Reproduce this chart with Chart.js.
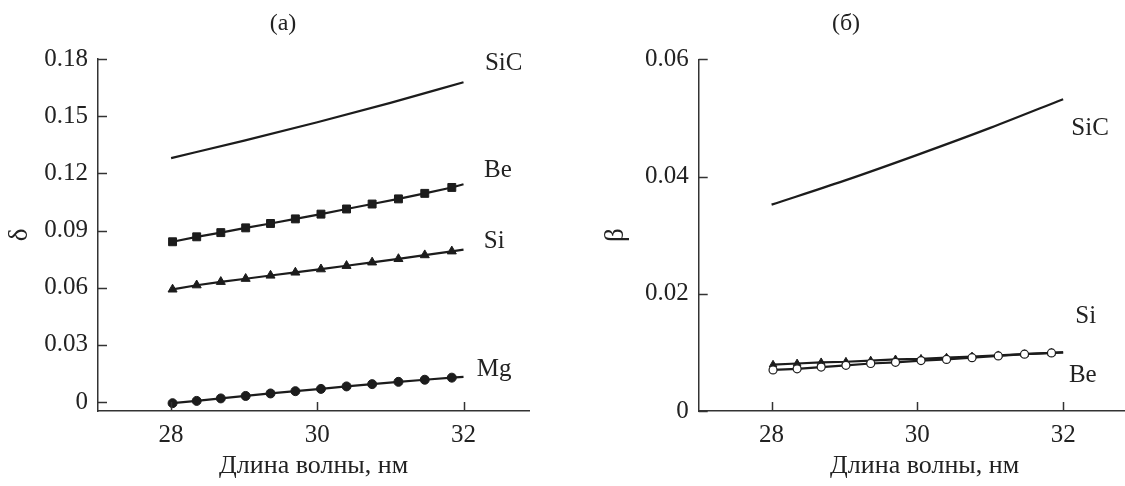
<!DOCTYPE html>
<html><head><meta charset="utf-8">
<script src="https://cdn.jsdelivr.net/npm/chart.js@4.4.1/dist/chart.umd.min.js"></script>
<style>
html,body{margin:0;padding:0;background:#fff;overflow:hidden;width:1125px;height:486px;}
#wrap{position:relative;width:1125px;height:486px;overflow:hidden;background:#fff;}
canvas{position:absolute;top:0;}
#c1{left:0;}
#c2{left:596px;}
.pl{position:absolute;font-family:"Liberation Serif",serif;font-size:24px;color:#222;transform:translate(-50%,-50%);white-space:nowrap;}
</style></head><body>
<div id="wrap">
<canvas id="c1" width="562" height="486"></canvas>
<canvas id="c2" width="560" height="486"></canvas>
<div class="pl" style="left:283px;top:22px">(а)</div>
<div class="pl" style="left:846px;top:22px">(б)</div>
</div>
<script>
// ---------- data ----------
const wavelengths = [28.02, 28.35, 28.68, 29.02, 29.36, 29.70, 30.05, 30.40, 30.75, 31.11, 31.47, 31.84, 32.0];
const sicWavelengths = [28, 29, 30, 31, 32];

// panel (а): delta
const deltaSiC = [0.1280, 0.1372, 0.1468, 0.1570, 0.1678];
const deltaBe  = [0.0841, 0.0867, 0.0889, 0.0914, 0.0937, 0.0961, 0.0986, 0.1013, 0.1039, 0.1066, 0.1095, 0.1126, 0.1143];
const deltaSi  = [0.0591, 0.0613, 0.0631, 0.0647, 0.0664, 0.0680, 0.0697, 0.0715, 0.0733, 0.0751, 0.0771, 0.0791, 0.0800];
const deltaMg  = [-0.0006, 0.0006, 0.0019, 0.0032, 0.0045, 0.0057, 0.0069, 0.0082, 0.0094, 0.0106, 0.0117, 0.0128, 0.0132];

// panel (б): beta
const betaSiC = [0.0352, 0.0393, 0.0437, 0.0483, 0.0532];
const betaSi  = [0.0079, 0.0081, 0.0083, 0.0084, 0.0086, 0.0088, 0.0089, 0.0091, 0.0093, 0.0095, 0.0097, 0.0099, 0.0100];
const betaBe  = [0.0070, 0.0072, 0.0075, 0.0078, 0.0081, 0.0083, 0.0086, 0.0088, 0.0091, 0.0094, 0.0097, 0.0099, 0.0100];

// ticks
const xTicks = [28, 30, 32];
const xTickLabels = ['28', '30', '32'];
const deltaTicks = [0, 0.03, 0.06, 0.09, 0.12, 0.15, 0.18];
const deltaTickLabels = ['0', '0.03', '0.06', '0.09', '0.12', '0.15', '0.18'];
const betaTicks = [0, 0.02, 0.04, 0.06];
const betaTickLabels = ['0', '0.02', '0.04', '0.06'];

const xTitle = 'Длина волны, нм';

// curve name labels (data coordinates)
const labelsA = [
  {text: 'SiC', x: 32.55, y: 0.1778},
  {text: 'Be',  x: 32.47, y: 0.1217},
  {text: 'Si',  x: 32.42, y: 0.0844},
  {text: 'Mg',  x: 32.42, y: 0.0173}
];
const labelsB = [
  {text: 'SiC', x: 32.37, y: 0.0482},
  {text: 'Si',  x: 32.31, y: 0.0162},
  {text: 'Be',  x: 32.27, y: 0.0061}
];

// ---------- styling / helpers ----------
const FONT = 'Liberation Serif';
const INK = '#1c1c1c';
const TXT = '#222';

function pts(xs, ys) { return xs.map((x, i) => ({x: x, y: ys[i]})); }
const lastIdx = wavelengths.length - 1;
function markerRadius(r) { return c => (c.dataIndex === lastIdx ? 0 : r); }

const innerTicks = {
  id: 'innerTicks',
  afterDraw(chart) {
    const ctx = chart.ctx, xs = chart.scales.x, ys = chart.scales.y;
    ctx.save();
    ctx.strokeStyle = '#333';
    ctx.lineWidth = 1.5;
    xs.ticks.forEach(t => {
      const px = Math.round(xs.getPixelForValue(t.value)) + 0.5;
      ctx.beginPath(); ctx.moveTo(px, xs.top); ctx.lineTo(px, xs.top - 9); ctx.stroke();
    });
    ys.ticks.forEach(t => {
      const py = Math.round(ys.getPixelForValue(t.value)) + 0.5;
      ctx.beginPath(); ctx.moveTo(ys.right, py); ctx.lineTo(ys.right + 9, py); ctx.stroke();
    });
    ctx.restore();
  }
};

const curveLabels = {
  id: 'curveLabels',
  afterDraw(chart, args, opts) {
    const ctx = chart.ctx, xs = chart.scales.x, ys = chart.scales.y;
    ctx.save();
    ctx.font = '25px "' + FONT + '"';
    ctx.fillStyle = TXT;
    ctx.textAlign = 'center';
    ctx.textBaseline = 'middle';
    (opts.items || []).forEach(it => {
      ctx.fillText(it.text, xs.getPixelForValue(it.x), ys.getPixelForValue(it.y));
    });
    ctx.restore();
  }
};

function xScale(max) {
  return {
    type: 'linear', min: 27, max: max,
    afterBuildTicks: s => { s.ticks = xTicks.map(v => ({value: v})); },
    afterFit: s => { s.height = 75; },
    grid: {display: false, drawTicks: false},
    border: {display: true, color: '#333', width: 1.5},
    ticks: {callback: (v, i) => xTickLabels[i], padding: 9, color: TXT, font: {family: FONT, size: 25}, maxRotation: 0, autoSkip: false},
    title: {display: true, text: xTitle, color: TXT, font: {family: FONT, size: 26}, padding: {top: 0, bottom: 4}}
  };
}
function yScale(min, max, ticks, labels, title, width) {
  return {
    type: 'linear', min: min, max: max,
    afterBuildTicks: s => { s.ticks = ticks.map(v => ({value: v})); },
    afterFit: s => { s.width = width; },
    grid: {display: false, drawTicks: false},
    border: {display: true, color: '#333', width: 1.5},
    ticks: {callback: (v, i) => labels[i], padding: 10, color: TXT, font: {family: FONT, size: 25}, autoSkip: false},
    title: {display: true, text: title, color: TXT, font: {family: FONT, size: 27}, padding: {top: 4, bottom: 0}}
  };
}

function lineDs(data, style, radius, extra) {
  return Object.assign({
    data: data, showLine: true, borderColor: INK, borderWidth: 2.2,
    pointStyle: style, pointRadius: radius, pointHoverRadius: radius,
    pointBackgroundColor: INK, pointBorderColor: INK, pointBorderWidth: 1,
    tension: 0, clip: false, fill: false
  }, extra || {});
}

Chart.defaults.devicePixelRatio = 1;

new Chart(document.getElementById('c1'), {
  type: 'scatter',
  data: {datasets: [
    lineDs(pts(sicWavelengths, deltaSiC), false, 0, {tension: 0.4, cubicInterpolationMode: 'monotone'}),
    lineDs(pts(wavelengths, deltaBe), 'rect', markerRadius(5.6)),
    lineDs(pts(wavelengths, deltaSi), 'triangle', markerRadius(5.2)),
    lineDs(pts(wavelengths, deltaMg), 'circle', markerRadius(4.5))
  ]},
  options: {
    responsive: false, animation: false, devicePixelRatio: 1,
    layout: {padding: {top: 59, right: 32.7, left: 0, bottom: 0}},
    plugins: {legend: {display: false}, tooltip: {enabled: false}, curveLabels: {items: labelsA}},
    scales: {
      x: xScale(32.9),
      y: yScale(-0.0047, 0.18, deltaTicks, deltaTickLabels, 'δ', 98)
    }
  },
  plugins: [innerTicks, curveLabels]
});

new Chart(document.getElementById('c2'), {
  type: 'scatter',
  data: {datasets: [
    lineDs(pts(sicWavelengths, betaSiC), false, 0, {tension: 0.4, cubicInterpolationMode: 'monotone'}),
    lineDs(pts(wavelengths, betaSi), 'triangle', markerRadius(4.4), {order: 2}),
    lineDs(pts(wavelengths, betaBe), 'circle', markerRadius(4), {order: 1, pointBackgroundColor: '#fff', pointBorderColor: INK, pointBorderWidth: 1.2})
  ]},
  options: {
    responsive: false, animation: false, devicePixelRatio: 1,
    layout: {padding: {top: 59.3, right: 5, left: 0, bottom: 0}},
    plugins: {legend: {display: false}, tooltip: {enabled: false}, curveLabels: {items: labelsB}},
    scales: {
      x: xScale(33.2),
      y: yScale(0, 0.06, betaTicks, betaTickLabels, 'β', 102.7)
    }
  },
  plugins: [innerTicks, curveLabels]
});
</script>
</body></html>
